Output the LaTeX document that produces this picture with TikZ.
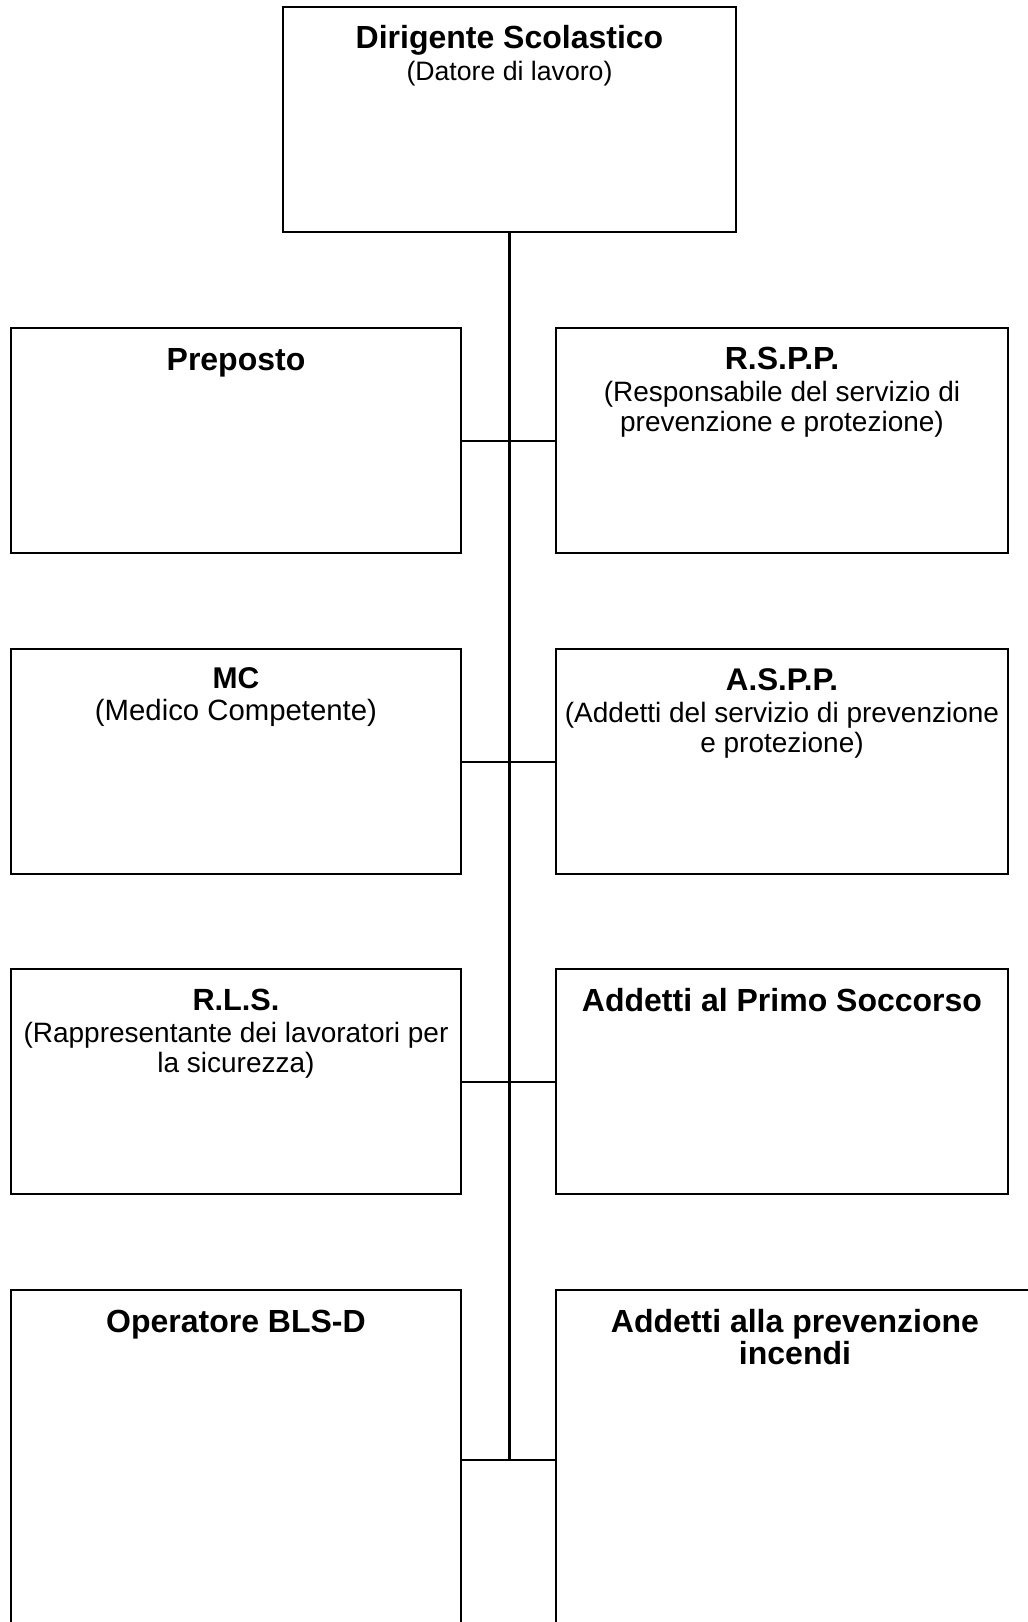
\documentclass[tikz,border=0pt]{standalone}
\usepackage{fontspec}
\setmainfont{Liberation Sans}
\newcommand{\grassetto}[2]{{\bfseries\fontsize{#1}{#1}\selectfont #2}}

\begin{document}
\begin{tikzpicture}[x=0.75pt, y=-0.75pt,
            ruolo/.style={draw, line width=1.5pt, minimum width=338pt, minimum height=168.75pt, inner sep=0pt},
            testo/.style={anchor=base, align=center, font=\fontsize{21}{22.5}\selectfont},
            capo/.style={anchor=base, align=center, font=\bfseries\fontsize{24}{24}\selectfont},
            ramo/.style={draw, line width=1.5pt},
            tronco/.style={draw, line width=2.5pt}
            ]
            \useasboundingbox (0,0) rectangle (1028,1622);
            \clip (0,0) rectangle (1028,1622);
            \node[ruolo, minimum width=339.75pt] (dirigente) at (509.5,119.5) {};
            \node[ruolo] (preposto) at (236,440.5) {};
            \node[ruolo, minimum width=339pt] (rspp) at (782,440.5) {};
            \node[ruolo] (mc) at (236,761.5) {};
            \node[ruolo, minimum width=339pt] (aspp) at (782,761.5) {};
            \node[ruolo] (rls) at (236,1081.5) {};
            \node[ruolo, minimum width=339pt] (soccorso) at (782,1081.5) {};
            \node[ruolo, minimum height=255pt] (blsd) at (236,1460) {};
            \node[ruolo, minimum width=358.5pt, minimum height=255pt] (incendi) at (795,1460) {};

            \node[testo, font=\fontsize{20}{21}\selectfont] (t-dirigente) at ([yshift=-55.5pt]dirigente.north)
                {\grassetto{24}{Dirigente Scolastico}\\[3pt](Datore di lavoro)};
            \node[capo] (t-preposto) at ([yshift=-32.25pt]preposto.north) {Preposto};
            \node[testo] (t-rspp) at ([yshift=-78pt]rspp.north)
                {\grassetto{24}{R.S.P.P.}\\[1.5pt](Responsabile del servizio di\\prevenzione e protezione)};
            \node[testo, font=\fontsize{22}{22.5}\selectfont] (t-mc) at ([yshift=-54pt]mc.north)
                {\grassetto{22.5}{MC}\\[1.5pt](Medico Competente)};
            \node[testo] (t-aspp) at ([yshift=-78pt]aspp.north)
                {\grassetto{23.5}{A.S.P.P.}\\[1.5pt](Addetti del servizio di prevenzione\\e protezione)};
            \node[testo] (t-rls) at ([yshift=-78pt]rls.north)
                {\grassetto{23}{R.L.S.}\\[1.5pt](Rappresentante dei lavoratori per\\la sicurezza)};
            \node[capo] (t-soccorso) at ([yshift=-32.25pt]soccorso.north) {Addetti al Primo Soccorso};
            \node[capo] (t-blsd) at ([yshift=-32.25pt]blsd.north) {Operatore BLS-D};
            \node[capo] (t-incendi) at ([yshift=-56.25pt]incendi.north) {Addetti alla prevenzione\\incendi};

            \coordinate (fondo) at (dirigente.south |- blsd.east);
            \draw[tronco] (dirigente.south) -- (fondo);
            \draw[ramo] (preposto.east) -- (preposto.east -| dirigente.south) -- (rspp.west);
            \draw[ramo] (mc.east) -- (mc.east -| dirigente.south) -- (aspp.west);
            \draw[ramo] (rls.east) -- (rls.east -| dirigente.south) -- (soccorso.west);
            \draw[ramo] (blsd.east) -- (fondo) -- (incendi.west);
        \end{tikzpicture}
\end{document}
